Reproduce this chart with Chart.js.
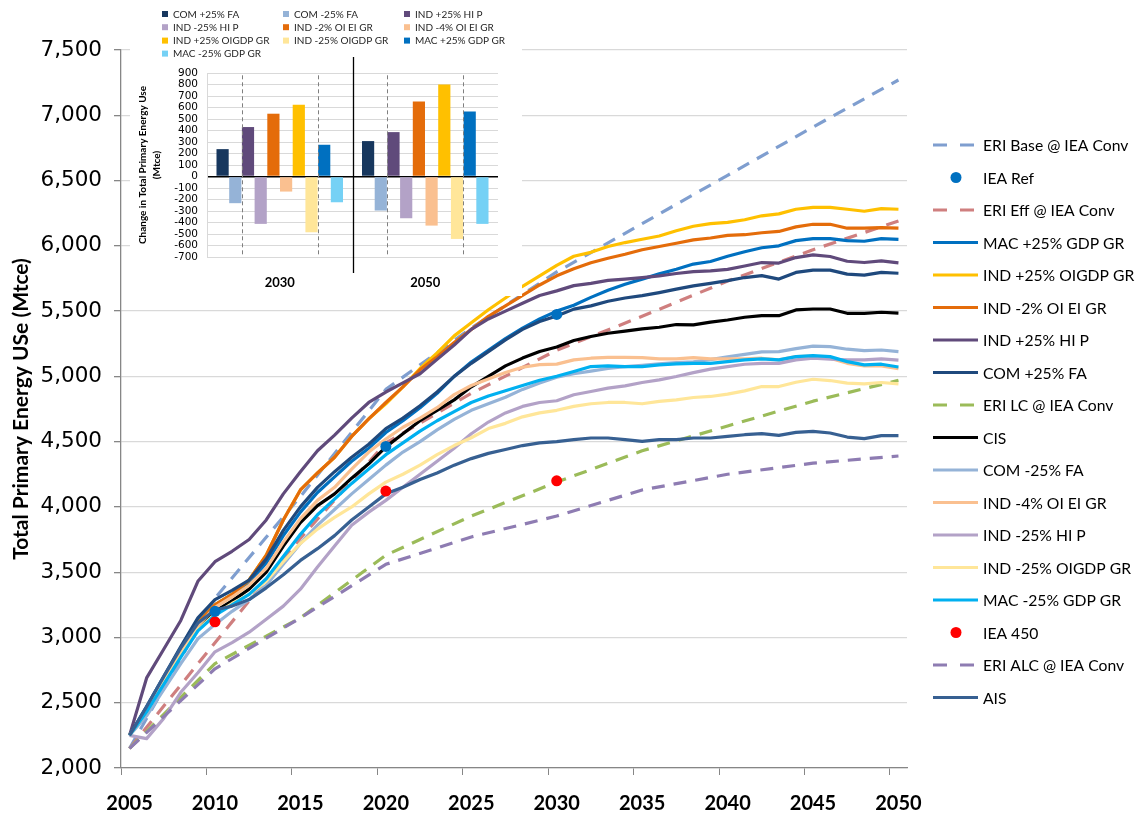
<!DOCTYPE html>
<html><head><meta charset="utf-8">
<script src="https://cdn.jsdelivr.net/npm/chart.js@4.4.1/dist/chart.umd.min.js"></script>
<style>
html,body{margin:0;padding:0;background:#fff;}
#wrap{position:relative;width:1140px;height:818px;overflow:hidden;}
#mainBox{position:absolute;left:0;top:0;width:1140px;height:818px;}
#insetBox{position:absolute;left:130px;top:0;width:392px;height:296px;background:#fff;}
</style></head><body>
<div id="wrap">
<div id="mainBox"><canvas id="main" width="1140" height="818"></canvas></div>
<div id="insetBox"><canvas id="inset" width="392" height="296"></canvas></div>
</div>
<script>
// ---------- main chart data ----------
const years = ['2005','2006','2007','2008','2009','2010','2011','2012','2013','2014','2015','2016','2017','2018','2019','2020','2021','2022','2023','2024','2025','2026','2027','2028','2029','2030','2031','2032','2033','2034','2035','2036','2037','2038','2039','2040','2041','2042','2043','2044','2045','2046','2047','2048','2049','2050'];

// ERI scenarios (5-year points)
const eriYears = ['2005','2010','2015','2020','2025','2030','2035','2040','2045','2050'];
const eriBase = [2150,3300,4080,4900,5370,5800,6170,6540,6910,7270];
const eriEff  = [2150,2960,3760,4490,4870,5200,5460,5730,5970,6190];
const eriLC   = [2150,2800,3150,3630,3930,4190,4430,4620,4810,4970];
const eriALC  = [2150,2760,3150,3560,3770,3930,4130,4250,4335,4390];

// IEA points
const ieaYears = ['2010','2020','2030'];
const ieaRef = [3200,4463,5474];
const iea450 = [3120,4121,4200];

// annual scenario series 2005-2050
const macPlus    = [2250,2450,2680,2900,3120,3250,3330,3420,3570,3780,3960,4110,4230,4350,4450,4570,4660,4760,4870,5000,5110,5200,5290,5370,5440,5500,5545,5605,5660,5705,5745,5785,5820,5860,5880,5920,5955,5985,6000,6040,6055,6055,6040,6035,6055,6050];
const oigdpPlus  = [2250,2450,2680,2900,3110,3250,3330,3440,3630,3900,4130,4260,4380,4540,4675,4790,4920,5060,5180,5310,5410,5510,5600,5690,5770,5850,5920,5950,5995,6025,6050,6075,6115,6150,6170,6180,6200,6230,6245,6280,6295,6295,6280,6265,6285,6280];
const oiEi2      = [2250,2450,2680,2900,3110,3250,3330,3440,3630,3900,4130,4260,4380,4540,4675,4800,4920,5050,5150,5260,5360,5460,5540,5620,5700,5770,5825,5870,5905,5935,5970,5995,6020,6045,6060,6080,6085,6100,6110,6145,6165,6165,6135,6135,6140,6135];
const hiPlus     = [2250,2690,2910,3130,3430,3580,3660,3750,3900,4100,4270,4430,4550,4680,4800,4880,4950,5020,5130,5240,5360,5440,5500,5560,5620,5655,5695,5712,5735,5745,5757,5770,5788,5803,5808,5820,5845,5872,5868,5910,5930,5918,5882,5872,5885,5870];
const comPlus    = [2250,2470,2700,2930,3150,3290,3360,3440,3600,3820,4000,4150,4270,4380,4480,4600,4680,4775,4880,5000,5100,5190,5280,5360,5420,5463,5515,5540,5575,5600,5618,5642,5668,5693,5712,5733,5757,5772,5745,5796,5814,5814,5783,5776,5796,5790];
const cis        = [2250,2440,2660,2870,3070,3200,3280,3370,3500,3700,3880,4010,4100,4220,4330,4460,4560,4660,4740,4820,4920,5000,5080,5140,5190,5225,5275,5305,5330,5346,5364,5376,5397,5394,5415,5432,5453,5465,5465,5509,5516,5516,5483,5483,5491,5485];
const comMinus   = [2250,2400,2600,2800,2990,3100,3200,3290,3400,3560,3720,3860,3980,4100,4210,4320,4420,4500,4590,4670,4740,4790,4840,4900,4950,4993,5020,5040,5060,5075,5085,5095,5105,5112,5128,5150,5168,5188,5190,5213,5232,5228,5208,5197,5202,5190];
const oiEi4      = [2250,2445,2670,2880,3090,3230,3310,3400,3530,3730,3910,4050,4150,4290,4420,4520,4610,4680,4760,4860,4930,4980,5030,5070,5090,5094,5126,5139,5146,5146,5144,5134,5134,5144,5134,5134,5134,5139,5126,5151,5156,5139,5100,5080,5080,5058];
const hiMinus    = [2250,2225,2380,2580,2730,2890,2960,3040,3140,3240,3370,3540,3700,3860,3960,4050,4150,4250,4350,4450,4560,4650,4720,4770,4800,4813,4859,4884,4910,4927,4953,4973,4999,5029,5055,5075,5093,5100,5100,5126,5139,5131,5126,5126,5134,5125];
const oigdpMinus = [2250,2430,2650,2860,3060,3180,3260,3330,3430,3580,3720,3830,3920,4000,4100,4190,4250,4320,4400,4470,4530,4600,4640,4690,4720,4740,4770,4790,4800,4800,4790,4808,4820,4838,4846,4864,4889,4922,4922,4955,4978,4968,4948,4943,4953,4942];
const macMinus   = [2250,2430,2640,2850,3050,3170,3250,3330,3450,3620,3790,3940,4060,4180,4290,4400,4490,4580,4660,4730,4800,4850,4890,4930,4970,5001,5037,5075,5080,5075,5075,5088,5095,5100,5100,5113,5126,5134,5126,5151,5159,5151,5113,5088,5093,5072];
const ais        = [2250,2470,2700,2920,3110,3210,3240,3290,3380,3480,3590,3680,3780,3900,4000,4100,4150,4210,4260,4320,4370,4410,4440,4470,4490,4500,4515,4528,4528,4515,4502,4515,4515,4528,4528,4540,4553,4561,4548,4571,4579,4566,4535,4523,4546,4546];

const yTickMin = 2000, yTickMax = 7500, yTickStep = 500;

// ---------- inset data ----------
const insetYears = ['2030','2050'];
const insetNames = ['COM +25% FA','COM -25% FA','IND +25% HI P','IND -25% HI P','IND -2% OI EI GR','IND -4% OI EI GR','IND +25% OIGDP GR','IND -25% OIGDP GR','MAC +25% GDP GR','MAC -25% GDP GR'];
const dComPlus    = [238, 308];
const dComMinus   = [-232, -296];
const dHiPlus     = [430, 386];
const dHiMinus    = [-412, -363];
const dOiEi2      = [546, 653];
const dOiEi4      = [-131, -427];
const dOigdpPlus  = [624, 801];
const dOigdpMinus = [-485, -543];
const dMacPlus    = [276, 566];
const dMacMinus   = [-224, -412];
const insetTickMin = -700, insetTickMax = 900, insetTickStep = 100;

// ---------- build datasets ----------
const pts = (xs, ys) => xs.map((x,i)=>({x:x, y:ys[i]}));
const DASH = [13,9];
function lineDs(label, data, color, dashed){
  return {label, data, borderColor:color, backgroundColor:color, borderWidth:3.2,
    borderDash: dashed?DASH:[], pointRadius:0, pointHoverRadius:0, fill:false,
    spanGaps:true, tension:0, borderJoinStyle:'round', borderCapStyle:'butt'};
}
function dotDs(label, data, color){
  return {label, data, showLine:false, borderColor:color, backgroundColor:color,
    pointBackgroundColor:color, pointBorderColor:color, pointRadius:5.5, pointHoverRadius:5.5, borderWidth:0, order:-100};
}
const mainDatasets = [
  lineDs('ERI Base @ IEA Conv', pts(eriYears, eriBase), '#7F9ECF', true),
  dotDs('IEA Ref', pts(ieaYears, ieaRef), '#0070C0'),
  lineDs('ERI Eff @ IEA Conv', pts(eriYears, eriEff), '#CF7F7F', true),
  lineDs('MAC +25% GDP GR', macPlus, '#0070C0'),
  lineDs('IND +25% OIGDP GR', oigdpPlus, '#FFC000'),
  lineDs('IND -2% OI EI GR', oiEi2, '#E46C0A'),
  lineDs('IND +25% HI P', hiPlus, '#604A7B'),
  lineDs('COM +25% FA', comPlus, '#1F497D'),
  lineDs('ERI LC @ IEA Conv', pts(eriYears, eriLC), '#9BBB59', true),
  lineDs('CIS', cis, '#000000'),
  lineDs('COM -25% FA', comMinus, '#95B3D7'),
  lineDs('IND -4% OI EI GR', oiEi4, '#FAC090'),
  lineDs('IND -25% HI P', hiMinus, '#B3A2C7'),
  lineDs('IND -25% OIGDP GR', oigdpMinus, '#FFE699'),
  lineDs('MAC -25% GDP GR', macMinus, '#00B0F0'),
  dotDs('IEA 450', pts(ieaYears, iea450), '#FF0000'),
  lineDs('ERI ALC @ IEA Conv', pts(eriYears, eriALC), '#8E7CB2', true),
  lineDs('AIS', ais, '#376092')
];
mainDatasets.forEach((d,i)=>{ if(d.order===undefined) d.order = -i; });

const mainLegend = {
  id:'mainLegend',
  afterDraw(chart){
    const ctx = chart.ctx;
    ctx.save();
    chart.data.datasets.forEach((ds,i)=>{
      const y = 145 + i*32.5;
      if(ds.showLine===false){
        ctx.fillStyle = ds.pointBackgroundColor;
        ctx.beginPath(); ctx.arc(956, y, 5.5, 0, Math.PI*2); ctx.fill();
      } else {
        ctx.strokeStyle = ds.borderColor; ctx.lineWidth = 3.2; ctx.lineCap='butt';
        ctx.setLineDash(ds.borderDash.length ? [14,13] : []);
        ctx.beginPath(); ctx.moveTo(933, y); ctx.lineTo(978, y); ctx.stroke();
        ctx.setLineDash([]);
      }
      ctx.fillStyle = '#000'; ctx.font = '15.7px Lato'; ctx.textBaseline='middle'; ctx.textAlign='left';
      ctx.fillText(ds.label, 983, y+1);
    });
    ctx.restore();
  }
};

const fmt = v => String(v).replace(/\B(?=(\d{3})+(?!\d))/g, ',');

new Chart(document.getElementById('main'), {
  type:'line',
  data:{labels:years, datasets:mainDatasets},
  options:{
    responsive:false, animation:false,
    layout:{padding:{left:0,right:233,top:50,bottom:0}},
    plugins:{legend:{display:false}, tooltip:{enabled:false}},
    scales:{
      x:{type:'category', offset:true,
        grid:{offset:true, drawOnChartArea:false, drawTicks:true, tickLength:7,
          tickColor: c => (c.index % 5 === 0 ? '#868686' : 'rgba(0,0,0,0)'), color:'rgba(0,0,0,0)'},
        border:{color:'#868686', width:1.3},
        ticks:{autoSkip:false, maxRotation:0, minRotation:0, padding:17, color:'#000',
          font:{family:'Lato', weight:'bold', size:20},
          callback:(v,i)=> (Number(years[i]) % 5 === 0 ? years[i] : '')},
        afterFit: s => { s.height = 50; }
      },
      y:{min:yTickMin, max:yTickMax,
        ticks:{stepSize:yTickStep, padding:12, color:'#000', font:{family:'DejaVu Sans', size:21.5}, callback: v => fmt(v)},
        grid:{color:'#D9D9D9', lineWidth:1.3, tickColor:'#868686', tickLength:7},
        border:{color:'#868686', width:1.3},
        title:{display:true, text:'Total Primary Energy USe (Mtce)', color:'#000',
          font:{family:'Lato', weight:'bold', size:21}, padding:{top:9,bottom:0}},
        afterFit: s => { s.width = 121; }
      }
    }
  },
  plugins:[mainLegend]
});

// ---------- inset ----------
const insetColors = ['#17375E','#95B3D7','#604A7B','#B3A2C7','#E46C0A','#FAC090','#FFC000','#FFE699','#0070C0','#75D1F5'];
const insetData = [dComPlus,dComMinus,dHiPlus,dHiMinus,dOiEi2,dOiEi4,dOigdpPlus,dOigdpMinus,dMacPlus,dMacMinus];

const insetDecor = {
  id:'insetDecor',
  afterDatasetsDraw(chart){
    const ctx = chart.ctx, xs = chart.scales.x, ys = chart.scales.y;
    ctx.save();
    ctx.strokeStyle='#7F7F7F'; ctx.lineWidth=1; ctx.setLineDash([4,3]);
    const pairs = [[1,2],[7,8]];
    for(let j=0;j<insetYears.length;j++){
      pairs.forEach(([a,b])=>{
        const ba = chart.getDatasetMeta(a).data[j], bb = chart.getDatasetMeta(b).data[j];
        const x = Math.round((ba.x + bb.x)/2) + 0.5;
        ctx.beginPath(); ctx.moveTo(x, ys.getPixelForValue(880)); ctx.lineTo(x, ys.getPixelForValue(-690)); ctx.stroke();
      });
    }
    ctx.setLineDash([]);
    ctx.strokeStyle='#000'; ctx.lineWidth=1.3;
    const sx = Math.round((xs.getPixelForValue(0)+xs.getPixelForValue(1))/2)+0.5;
    ctx.beginPath(); ctx.moveTo(sx, 57); ctx.lineTo(sx, 273); ctx.stroke();
    // legend
    const colX = [35, 156, 277], rowY = [14, 27.2, 40.6, 53.6];
    ctx.font = '10px Lato'; ctx.textBaseline='middle'; ctx.textAlign='left';
    chart.data.datasets.forEach((ds,i)=>{
      const c = i % 3, r = Math.floor(i/3);
      ctx.fillStyle = ds.backgroundColor;
      ctx.fillRect(colX[c]-3, rowY[r]-3, 6, 6);
      ctx.fillStyle = '#262626';
      ctx.fillText(ds.label, colX[c]+8, rowY[r]+0.5);
    });
    ctx.restore();
  }
};

new Chart(document.getElementById('inset'), {
  type:'bar',
  data:{labels:insetYears, datasets: insetNames.map((n,i)=>({label:n, data:insetData[i], backgroundColor:insetColors[i], borderWidth:0, categoryPercentage:0.873, barPercentage:0.96}))},
  options:{
    responsive:false, animation:false,
    layout:{padding:{left:0,right:24,top:73,bottom:0}},
    plugins:{legend:{display:false}, tooltip:{enabled:false}},
    scales:{
      x:{grid:{display:false, drawTicks:false}, border:{display:false},
        ticks:{padding:18, color:'#000', font:{family:'Lato', weight:'bold', size:13}},
        afterFit: s => { s.height = 39; }},
      y:{min:insetTickMin, max:insetTickMax,
        ticks:{stepSize:insetTickStep, autoSkip:false, padding:9, color:'#000', font:{family:'DejaVu Sans', size:10.5}},
        grid:{drawTicks:false, color: c => (c.tick && c.tick.value === 0 ? '#000' : '#D9D9D9'), lineWidth: c => (c.tick && c.tick.value === 0 ? 1.5 : 1)},
        border:{color:'#D9D9D9'},
        title:{display:true, text:['Change in Total Primary Energy Use','(Mtce)'], color:'#000',
          font:{family:'Lato', weight:'bold', size:10, lineHeight:1.4}, padding:{top:6,bottom:0}},
        afterFit: s => { s.width = 77; }
      }
    }
  },
  plugins:[insetDecor]
});
</script>
</body></html>
